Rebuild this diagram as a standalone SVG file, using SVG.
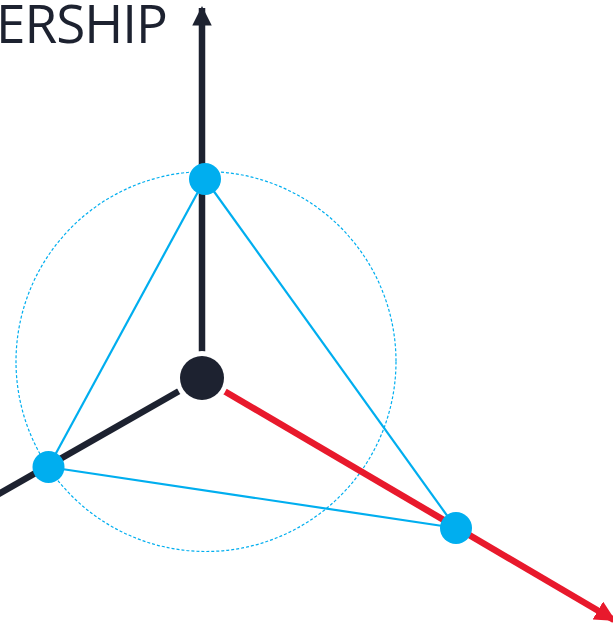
<svg xmlns="http://www.w3.org/2000/svg" width="613" height="623" viewBox="0 0 613 623">
  <style>
    .axis { stroke: #1d2230; stroke-width: 6.5; fill: none; }
    .axis-red { stroke: #e8192c; stroke-width: 6.5; fill: none; }
    .edge { stroke: #00aeef; stroke-width: 2.2; fill: none; }
    .orbit { stroke: #00aeef; stroke-width: 1.2; fill: none; stroke-dasharray: 3 2; }
    .point { fill: #00aeef; }
    .hub { fill: #1d2230; }
    .label { font-family: "Open Sans", "Liberation Sans", sans-serif; font-size: 53px; letter-spacing: -1px; fill: #1d2230; }
  </style>
  <defs>
    <marker id="arrow-dark" viewBox="0 0 10 10" refX="9" refY="5" markerWidth="3" markerHeight="3" markerUnits="strokeWidth" orient="auto">
      <path d="M0,0 L10,5 L0,10 z" fill="#1d2230"/>
    </marker>
    <marker id="arrow-red" viewBox="0 0 10 10" refX="9" refY="5" markerWidth="3.2" markerHeight="3.2" markerUnits="strokeWidth" orient="auto">
      <path d="M0,0 L10,5 L0,10 z" fill="#e8192c"/>
    </marker>
  </defs>

  <text class="label" x="167" y="43" text-anchor="end">ERSHIP</text>

  <!-- dashed orbit through the three outer points -->
  <circle class="orbit" cx="206" cy="361.5" r="190"/>

  <g id="connectors">
    <line class="axis" x1="202" y1="378" x2="202" y2="8" marker-end="url(#arrow-dark)"/>
    <line class="axis" x1="202" y1="378" x2="-10" y2="499"/>
    <line class="axis-red" x1="202" y1="378" x2="614" y2="620" marker-end="url(#arrow-red)"/>
    <line class="edge" x1="205" y1="179" x2="48.5" y2="467"/>
    <line class="edge" x1="205" y1="179" x2="456" y2="528"/>
    <line class="edge" x1="48.5" y1="467" x2="456" y2="528"/>
  </g>

  <g id="hub">
    <circle cx="202" cy="378" r="27" fill="#ffffff"/>
    <circle class="hub" cx="202" cy="378" r="22"/>
  </g>
  <g id="point-top">
    <circle class="point" cx="205" cy="179" r="16"/>
  </g>
  <g id="point-left">
    <circle class="point" cx="48.5" cy="467" r="16"/>
  </g>
  <g id="point-right">
    <circle class="point" cx="456" cy="528" r="16"/>
  </g>
</svg>
